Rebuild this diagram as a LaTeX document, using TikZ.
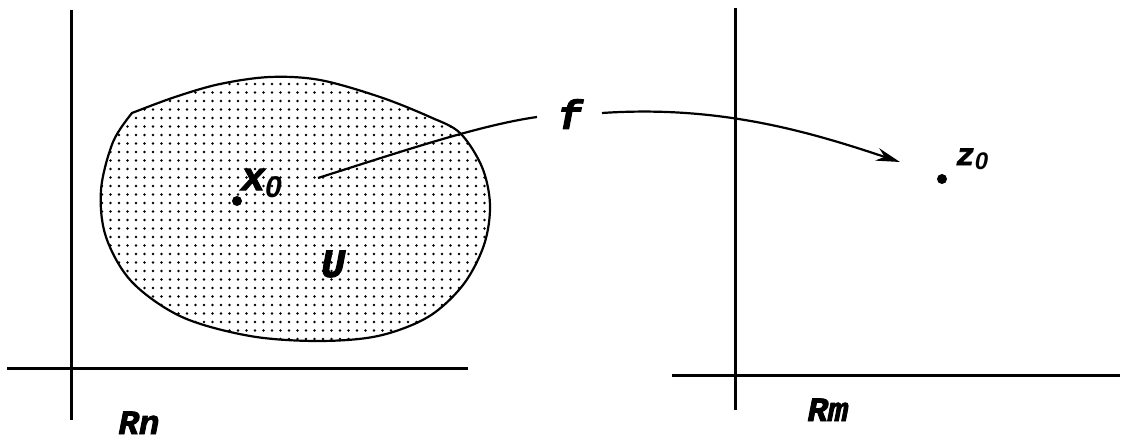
\documentclass[tikz,border=0pt]{standalone}
\usepackage{fontspec}
\newfontfamily\lblfont{Liberation Mono}[BoldItalicFeatures={FakeBold=2.5}]
\newfontfamily\digfont{Liberation Sans}
\newcommand{\subzero}[2]{\raisebox{#1}{\digfont\bfseries\itshape\fontsize{#2}{#2}\selectfont 0}}
\usetikzlibrary{arrows.meta, patterns.meta, positioning}
\tikzset{
  % axes drawn heavier than the region outline
  axisline/.style = {line width=3pt, black},
  region/.style   = {line width=2.2pt, black, line join=round,
                     pattern={Dots[distance=8.5pt, radius=1.3pt]}},
  mapline/.style  = {line width=2.2pt, black},
  ptdot/.style    = {circle, fill=black, inner sep=0pt, minimum size=10pt},
  lbl/.style      = {inner sep=1pt, font=\lblfont\bfseries\itshape\fontsize{40}{40}\selectfont},
  slbl/.style     = {inner sep=0pt, font=\lblfont\bfseries\itshape\fontsize{34}{34}\selectfont},
}

\begin{document}
\begin{tikzpicture}[x=1pt, y=-1pt]
  \useasboundingbox (0,0) rectangle (1130,441);
  % left space R^n
  \draw[axisline] (71,10) -- (71,420);
  \draw[axisline] (7,368) -- (468,368);
  \draw[region] plot[smooth, tension=0.55] coordinates {
      (132,113) (175,97) (220,84) (270,77) (320,80) (380,97) (430,117)
      (460,133) (482,167) (490,205) (484,245) (463,285) (428,317)
      (378,336) (318,341) (250,336) (182,317) (132,282) (106,237)
      (101,190) (113,142) (132,113)} -- cycle;
  \node[ptdot] (dotx) at (237,201) {};
  \node[lbl, anchor=base west] (lblx) at (240,190) {x\subzero{-7pt}{30}};
  \node[lbl] (lblu) at (333,264) {U};
  \node[slbl, anchor=base] (lblrn) at (139,434) {Rn};
  % right space R^m
  \draw[axisline] (735,8) -- (735,410);
  \draw[axisline] (672,375) -- (1120,375);
  \node[ptdot] (dotz) at (942,179) {};
  \node[slbl, anchor=base west] (lblz) at (956,165) {\fontsize{31}{31}\selectfont z\subzero{-5pt}{24}};
  \node[slbl, anchor=base] (lblrm) at (828,421) {Rm};
  % the map f
  \node[lbl] (lblf) at (570,114) {f};
  \coordinate (mapsrc) at (318,178);
  \coordinate (mapdst) at (900,162);
  \draw[mapline] (mapsrc) .. controls (400,152) and (480,125) .. (537,117);
  \draw[mapline, -{Stealth[length=24pt, width=13pt]}] (602,113) .. controls (720,105) and (810,132) .. (mapdst);
\end{tikzpicture}
\end{document}
